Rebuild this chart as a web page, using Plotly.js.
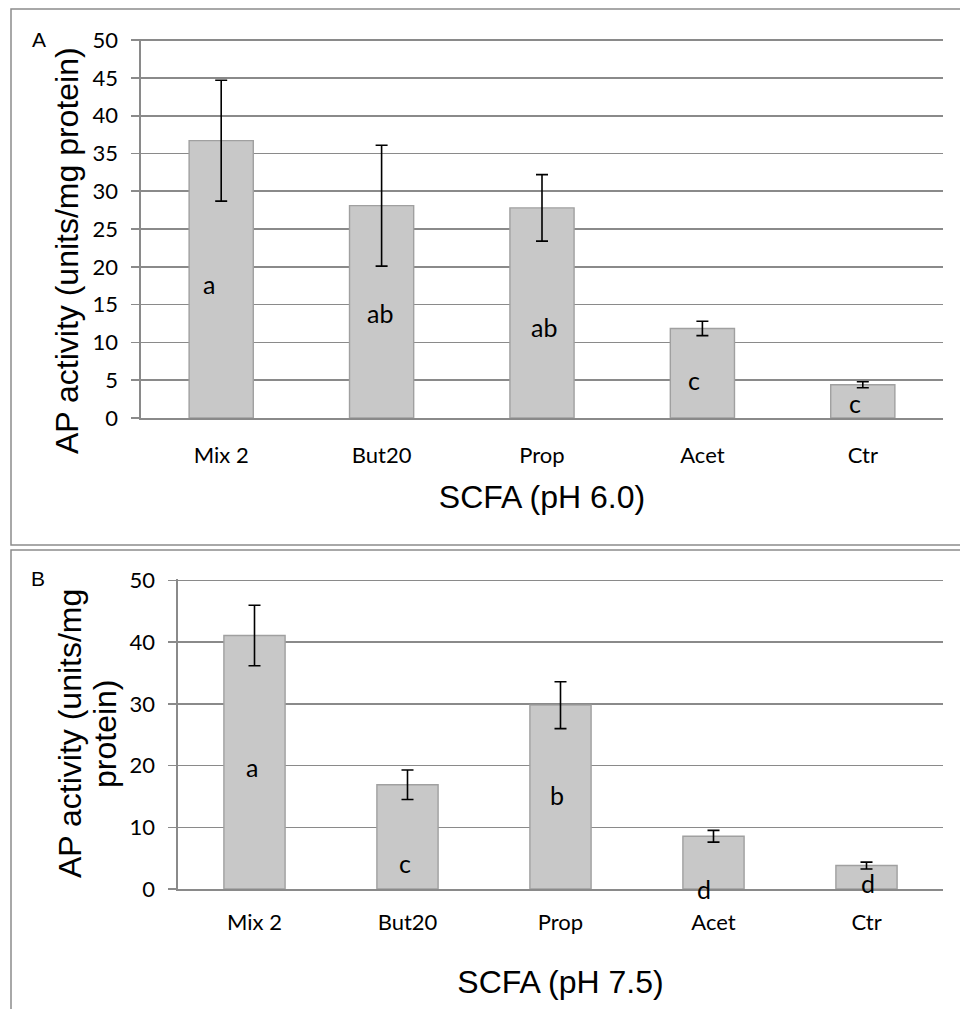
<!DOCTYPE html>
<html>
<head>
<meta charset="utf-8">
<script src="https://cdn.plot.ly/plotly-3.0.1.min.js"></script>
<style>
  html, body { margin: 0; padding: 0; background: #fff; }
  #chart { width: 960px; height: 1009px; }
</style>
</head>
<body>
<div id="chart"></div>
<script>
// ---- data ----
const categories = ["Mix 2", "But20", "Prop", "Acet", "Ctr"];

const valuesPH60 = [36.7, 28.1, 27.8, 11.85, 4.4];
const errorsPH60 = [8.0, 8.0, 4.4, 0.95, 0.4];
const lettersPH60 = ["a", "ab", "ab", "c", "c"];

const valuesPH75 = [41.1, 16.9, 29.8, 8.55, 3.8];
const errorsPH75 = [4.9, 2.4, 3.8, 0.95, 0.55];
const lettersPH75 = ["a", "c", "b", "d", "d"];

const xTitleA = "SCFA (pH 6.0)";
const xTitleB = "SCFA (pH 7.5)";
const yTitleA = "AP activity (units/mg protein)";
const yTitleB1 = "AP activity (units/mg";
const yTitleB2 = "protein)";

// ---- layout helpers (positions of letter labels, in axis units / px) ----
const letterYA = [17.7, 13.9, 12.0, 5.0, 2.0];
const letterShiftA = [-12, -2, 2, -8, -8];
const letterYB = [19.7, 4.2, 15.3, 0.0, 1.0];
const letterShiftB = [-3, -3, -4, -10, 1];

const W = 960, H = 1009;
const px = v => v / W;
const py = v => 1 - v / H;

const gridCol = "#8a8a8a";
const tickFont = { family: "Lato, 'Open Sans', sans-serif", size: 22, color: "#000" };
const titleFont = { family: "'Liberation Sans', Arial, sans-serif", size: 32, color: "#000" };
const barColor = "#c8c8c8";
const barLine = "#a0a0a0";

const traces = [
  {
    type: "bar", x: categories, y: valuesPH60, xaxis: "x", yaxis: "y",
    marker: { color: barColor, line: { color: barLine, width: 1.4 } },
    error_y: { type: "data", array: errorsPH60, visible: true, color: "#000", thickness: 1.6, width: 6 },
    hoverinfo: "x+y", showlegend: false
  },
  {
    type: "bar", x: categories, y: valuesPH75, xaxis: "x2", yaxis: "y2",
    marker: { color: barColor, line: { color: barLine, width: 1.4 } },
    error_y: { type: "data", array: errorsPH75, visible: true, color: "#000", thickness: 1.6, width: 6 },
    hoverinfo: "x+y", showlegend: false
  }
];

const annotations = [];
categories.forEach((c, i) => {
  annotations.push({ x: c, y: letterYA[i], xref: "x", yref: "y", text: lettersPH60[i], showarrow: false,
    xshift: letterShiftA[i], font: { family: tickFont.family, size: 25, color: "#000" } });
  annotations.push({ x: c, y: letterYB[i], xref: "x2", yref: "y2", text: lettersPH75[i], showarrow: false,
    xshift: letterShiftB[i], font: { family: tickFont.family, size: 25, color: "#000" } });
});
// y-axis titles
annotations.push({ x: px(67), y: py(251), xref: "paper", yref: "paper", text: yTitleA, textangle: -90,
  showarrow: false, font: titleFont, xanchor: "center", yanchor: "middle" });
annotations.push({ x: px(70), y: py(734), xref: "paper", yref: "paper", text: yTitleB1, textangle: -90,
  showarrow: false, font: titleFont, xanchor: "center", yanchor: "middle" });
annotations.push({ x: px(105), y: py(734), xref: "paper", yref: "paper", text: yTitleB2, textangle: -90,
  showarrow: false, font: titleFont, xanchor: "center", yanchor: "middle" });
// panel letters
annotations.push({ x: px(39), y: py(40), xref: "paper", yref: "paper", text: "A", showarrow: false,
  xanchor: "center", yanchor: "middle", font: { family: titleFont.family, size: 21, color: "#000" } });
annotations.push({ x: px(38), y: py(578), xref: "paper", yref: "paper", text: "B", showarrow: false,
  xanchor: "center", yanchor: "middle", font: { family: titleFont.family, size: 21, color: "#000" } });

const shapes = [
  // panel A frame
  { type: "rect", xref: "paper", yref: "paper", x0: px(11), x1: px(975), y0: py(545), y1: py(9),
    line: { color: "#8c8c8c", width: 1.5 }, fillcolor: "rgba(0,0,0,0)" },
  // panel B frame
  { type: "rect", xref: "paper", yref: "paper", x0: px(11), x1: px(975), y0: py(1030), y1: py(550),
    line: { color: "#8c8c8c", width: 1.5 }, fillcolor: "rgba(0,0,0,0)" }
];

const yCommon = {
  showgrid: true, gridcolor: gridCol, gridwidth: 1.6,
  showline: true, linecolor: gridCol, linewidth: 1.6,
  ticks: "outside", ticklen: 8, tickcolor: gridCol, tickwidth: 1.6,
  tickfont: tickFont, ticklabelstandoff: 9, zeroline: false, fixedrange: true
};
const xCommon = {
  showline: true, linecolor: gridCol, linewidth: 1.6, ticks: "",
  tickfont: tickFont, showgrid: false, fixedrange: true
};

const layout = {
  width: W, height: H,
  margin: { l: 0, r: 0, t: 0, b: 0 },
  paper_bgcolor: "#fff", plot_bgcolor: "#fff",
  bargap: 0.6,
  showlegend: false,
  xaxis: Object.assign({}, xCommon, {
    domain: [px(141), px(943)], anchor: "y", ticklabelstandoff: 17,
    title: { text: xTitleA, font: titleFont, standoff: 18 }
  }),
  yaxis: Object.assign({}, yCommon, {
    domain: [py(418), py(39)], anchor: "x", range: [0, 50.15], dtick: 5, tick0: 0
  }),
  xaxis2: Object.assign({}, xCommon, {
    domain: [px(178), px(943)], anchor: "y2", ticklabelstandoff: 13,
    title: { text: xTitleB, font: titleFont, standoff: 36 }
  }),
  yaxis2: Object.assign({}, yCommon, {
    domain: [py(889), py(579)], anchor: "x2", range: [0, 50.25], dtick: 10, tick0: 0
  }),
  annotations: annotations,
  shapes: shapes
};

Plotly.newPlot("chart", traces, layout, { displayModeBar: false, staticPlot: true });
</script>
</body>
</html>
